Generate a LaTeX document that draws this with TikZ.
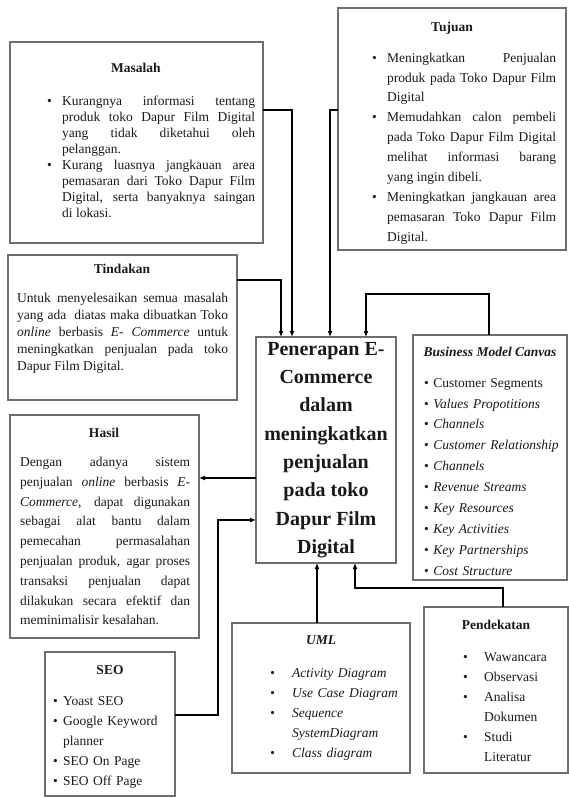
\documentclass[tikz,border=0pt]{standalone}
\usepackage{fontspec}
\setmainfont{Liberation Serif}
\usetikzlibrary{arrows.meta,calc}
\definecolor{boxgray}{RGB}{110,110,110}
\definecolor{txt}{RGB}{25,25,25}
\newcommand{\bul}[1]{\par\noindent\hangindent=#1\hangafter=1\makebox[#1][l]{\textbullet}\ignorespaces}
\begin{document}
\begin{tikzpicture}[x=1pt,y=-1pt,
  boxst/.style={draw=boxgray,line width=1.1pt,anchor=north west,inner sep=0pt,outer sep=0pt},
  ttl/.style={font=\fontsize{13.5}{16}\selectfont\bfseries,anchor=base,inner sep=0pt,text=txt},
  body/.style={anchor=north west,inner sep=0pt,text=txt,align=justify},
  conn/.style={draw=black,-{Latex[length=6pt,width=5pt]},line join=miter},
]
\useasboundingbox (0,0) rectangle (569,798);

% boxes
\node[boxst,minimum width=253pt,minimum height=201pt] (masalah) at (10,42) {};
\node[boxst,minimum width=228pt,minimum height=242pt] (tujuan) at (338,8) {};
\node[boxst,minimum width=229pt,minimum height=145pt] (tindakan) at (8,255) {};
\node[boxst,minimum width=189pt,minimum height=223pt] (hasil) at (10,415) {};
\node[boxst,minimum width=130pt,minimum height=144pt] (seo) at (45,652) {};
\node[boxst,minimum width=178pt,minimum height=150pt] (uml) at (232,623) {};
\node[boxst,minimum width=144pt,minimum height=166pt] (pend) at (424,607) {};
\node[boxst,minimum width=154pt,minimum height=245pt] (bmc) at (413,335) {};
\node[boxst,minimum width=140pt,minimum height=226pt,align=center,
      font=\fontsize{20}{28.3}\selectfont\bfseries,text=txt] (central) at (256,337)
  {Penerapan E-\\Commerce\\dalam\\meningkatkan\\penjualan\\pada toko\\Dapur Film\\Digital};

% titles
\node[ttl] (masalahH) at (136,72) {Masalah};
\node[ttl] (tujuanH) at (452,31) {Tujuan};
\node[ttl] (tindakanH) at (122,273) {Tindakan};
\node[ttl] (hasilH) at (104,437) {Hasil};
\node[ttl] (seoH) at (110,674) {SEO};
\node[ttl,font=\fontsize{13.5}{16}\selectfont\bfseries\itshape] (umlH) at (321,644) {UML};
\node[ttl] (pendH) at (496,629) {Pendekatan};
\node[ttl,font=\fontsize{13.5}{16}\selectfont\bfseries\itshape] (bmcH) at (490,356) {Business Model Canvas};

% bodies
\node[body,text width=208pt,font=\fontsize{13.5}{16}\selectfont] (masalahT) at (47,89) {%
\bul{15pt}Kurangnya informasi tentang\linebreak produk toko Dapur Film Digital\linebreak yang tidak diketahui oleh\linebreak pelanggan.
\bul{15pt}Kurang luasnya jangkauan area\linebreak pemasaran dari Toko Dapur Film\linebreak Digital, serta banyaknya saingan\linebreak di lokasi.\par};

\node[body,text width=184pt,font=\fontsize{13.5}{19.9}\selectfont] (tujuanT) at (372,42) {%
\bul{15pt}Meningkatkan Penjualan\linebreak produk pada Toko Dapur Film\linebreak Digital
\bul{15pt}Memudahkan calon pembeli\linebreak pada Toko Dapur Film Digital\linebreak melihat informasi barang\linebreak yang ingin dibeli.
\bul{15pt}Meningkatkan jangkauan area\linebreak pemasaran Toko Dapur Film\linebreak Digital.\par};

\node[body,text width=211pt,font=\fontsize{13.5}{17}\selectfont] (tindakanT) at (17,293) {%
Untuk menyelesaikan semua masalah\linebreak yang ada\ \ diatas maka dibuatkan Toko\linebreak \textit{online} berbasis \textit{E- Commerce} untuk\linebreak meningkatkan penjualan pada toko\linebreak Dapur Film Digital.\par};

\node[body,text width=170pt,font=\fontsize{13.5}{19.8}\selectfont] (hasilT) at (20,457) {%
Dengan adanya sistem\linebreak penjualan \textit{online} berbasis \textit{E-}\linebreak \textit{Commerce}, dapat digunakan\linebreak sebagai alat bantu dalam\linebreak pemecahan permasalahan\linebreak penjualan produk, agar proses\linebreak transaksi penjualan dapat\linebreak dilakukan secara efektif dan\linebreak meminimalisir kesalahan.\par};

\node[body,align=left,text width=120pt,font=\fontsize{13.5}{20}\selectfont] (seoT) at (53,685) {%
\bul{10pt}Yoast SEO
\bul{10pt}Google Keyword\newline planner
\bul{10pt}SEO On Page
\bul{10pt}SEO Off Page\par};

\node[body,align=left,text width=135pt,font=\fontsize{13.5}{20}\selectfont\itshape] (umlT) at (270,657) {%
\bul{22pt}Activity Diagram
\bul{22pt}Use Case Diagram
\bul{22pt}Sequence\newline SystemDiagram
\bul{22pt}Class diagram\par};

\node[body,align=left,text width=100pt,font=\fontsize{13.5}{20}\selectfont] (pendT) at (463,641) {%
\bul{21pt}Wawancara
\bul{21pt}Observasi
\bul{21pt}Analisa\newline Dokumen
\bul{21pt}Studi\newline Literatur\par};

\node[body,align=left,text width=142pt,font=\fontsize{13.5}{20.9}\selectfont] (bmcT) at (424,378) {%
\textbullet\ Customer Segments\\
\textbullet\ \textit{Values Propotitions}\\
\textbullet\ \textit{Channels}\\
\textbullet\ \textit{Customer Relationship}\\
\textbullet\ \textit{Channels}\\
\textbullet\ \textit{Revenue Streams}\\
\textbullet\ \textit{Key Resources}\\
\textbullet\ \textit{Key Activities}\\
\textbullet\ \textit{Key Partnerships}\\
\textbullet\ \textit{Cost Structure}};

% connectors
\draw[conn,line width=2.8pt] ([yshift=-25pt]tindakan.north east) -| ([xshift=25pt]central.north west);
\draw[conn,line width=1.6pt] ([yshift=-68pt]masalah.north east) -| ([xshift=36pt]central.north west);
\draw[conn,line width=1.6pt] ([yshift=-102pt]tujuan.north west) -| ([xshift=74pt]central.north west);
\draw[conn,line width=2.8pt] ([xshift=76pt]bmc.north west) -- ++(0,-41) -| ([xshift=110pt]central.north west);
\draw[conn,line width=2pt] ([yshift=-141pt]central.north west) -- ([yshift=-63pt]hasil.north east);
\draw[conn,line width=2.6pt] ([yshift=-63pt]seo.north east) -- ++(43,0) |- ([yshift=-183pt]central.north west);
\draw[conn,line width=2pt] ([xshift=85pt]uml.north west) -- ([xshift=61pt]central.south west);
\draw[conn,line width=2.8pt] ([xshift=79pt]pend.north west) -- ++(0,-19) -| ([xshift=99pt]central.south west);
\end{tikzpicture}
\end{document}
